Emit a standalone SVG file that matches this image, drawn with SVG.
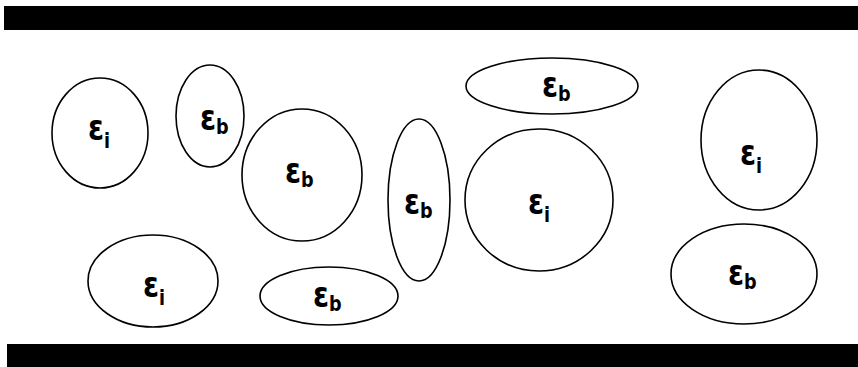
<svg xmlns="http://www.w3.org/2000/svg" width="858" height="367" viewBox="0 0 858 367">
<style>
.bar{fill:#000}
.cell{fill:none;stroke:#000;stroke-width:1.6}
.lbl{font-family:"DejaVu Sans",sans-serif;font-weight:bold;font-size:36px;fill:#000}
.sub{font-size:22px}
</style>
<rect width="858" height="367" fill="#fff"/>
<rect class="bar" x="4" y="6" width="854" height="24"/>
<rect class="bar" x="7" y="344" width="851" height="23"/>
<g id="n1"><ellipse class="cell" cx="100" cy="133" rx="48" ry="55"/><text class="lbl" transform="translate(88,140) scale(0.8,1)">ε<tspan class="sub" dy="8">i</tspan></text></g>
<g id="n2"><ellipse class="cell" cx="210" cy="116" rx="34" ry="51"/><text class="lbl" transform="translate(200,130) scale(0.8,1)">ε<tspan class="sub" dy="4">b</tspan></text></g>
<g id="n3"><ellipse class="cell" cx="302" cy="175" rx="60" ry="66"/><text class="lbl" transform="translate(285,183) scale(0.8,1)">ε<tspan class="sub" dy="4">b</tspan></text></g>
<g id="n4"><ellipse class="cell" cx="419" cy="200" rx="31" ry="81"/><text class="lbl" transform="translate(404,214) scale(0.8,1)">ε<tspan class="sub" dy="4">b</tspan></text></g>
<g id="n5"><ellipse class="cell" cx="552" cy="86" rx="86" ry="28"/><text class="lbl" transform="translate(542,97) scale(0.8,1)">ε<tspan class="sub" dy="4">b</tspan></text></g>
<g id="n6"><ellipse class="cell" cx="539" cy="200" rx="74" ry="71"/><text class="lbl" transform="translate(528,214) scale(0.8,1)">ε<tspan class="sub" dy="8">i</tspan></text></g>
<g id="n7"><ellipse class="cell" cx="153" cy="281" rx="65" ry="46"/><text class="lbl" transform="translate(143,297) scale(0.8,1)">ε<tspan class="sub" dy="8">i</tspan></text></g>
<g id="n8"><ellipse class="cell" cx="329" cy="296" rx="69" ry="29"/><text class="lbl" transform="translate(313,307) scale(0.8,1)">ε<tspan class="sub" dy="4">b</tspan></text></g>
<g id="n9"><ellipse class="cell" cx="759" cy="140" rx="58" ry="70"/><text class="lbl" transform="translate(740,165) scale(0.8,1)">ε<tspan class="sub" dy="8">i</tspan></text></g>
<g id="n10"><ellipse class="cell" cx="744" cy="274" rx="73" ry="50"/><text class="lbl" transform="translate(728,285) scale(0.8,1)">ε<tspan class="sub" dy="4">b</tspan></text></g>
<g id="connectors"/>
</svg>
